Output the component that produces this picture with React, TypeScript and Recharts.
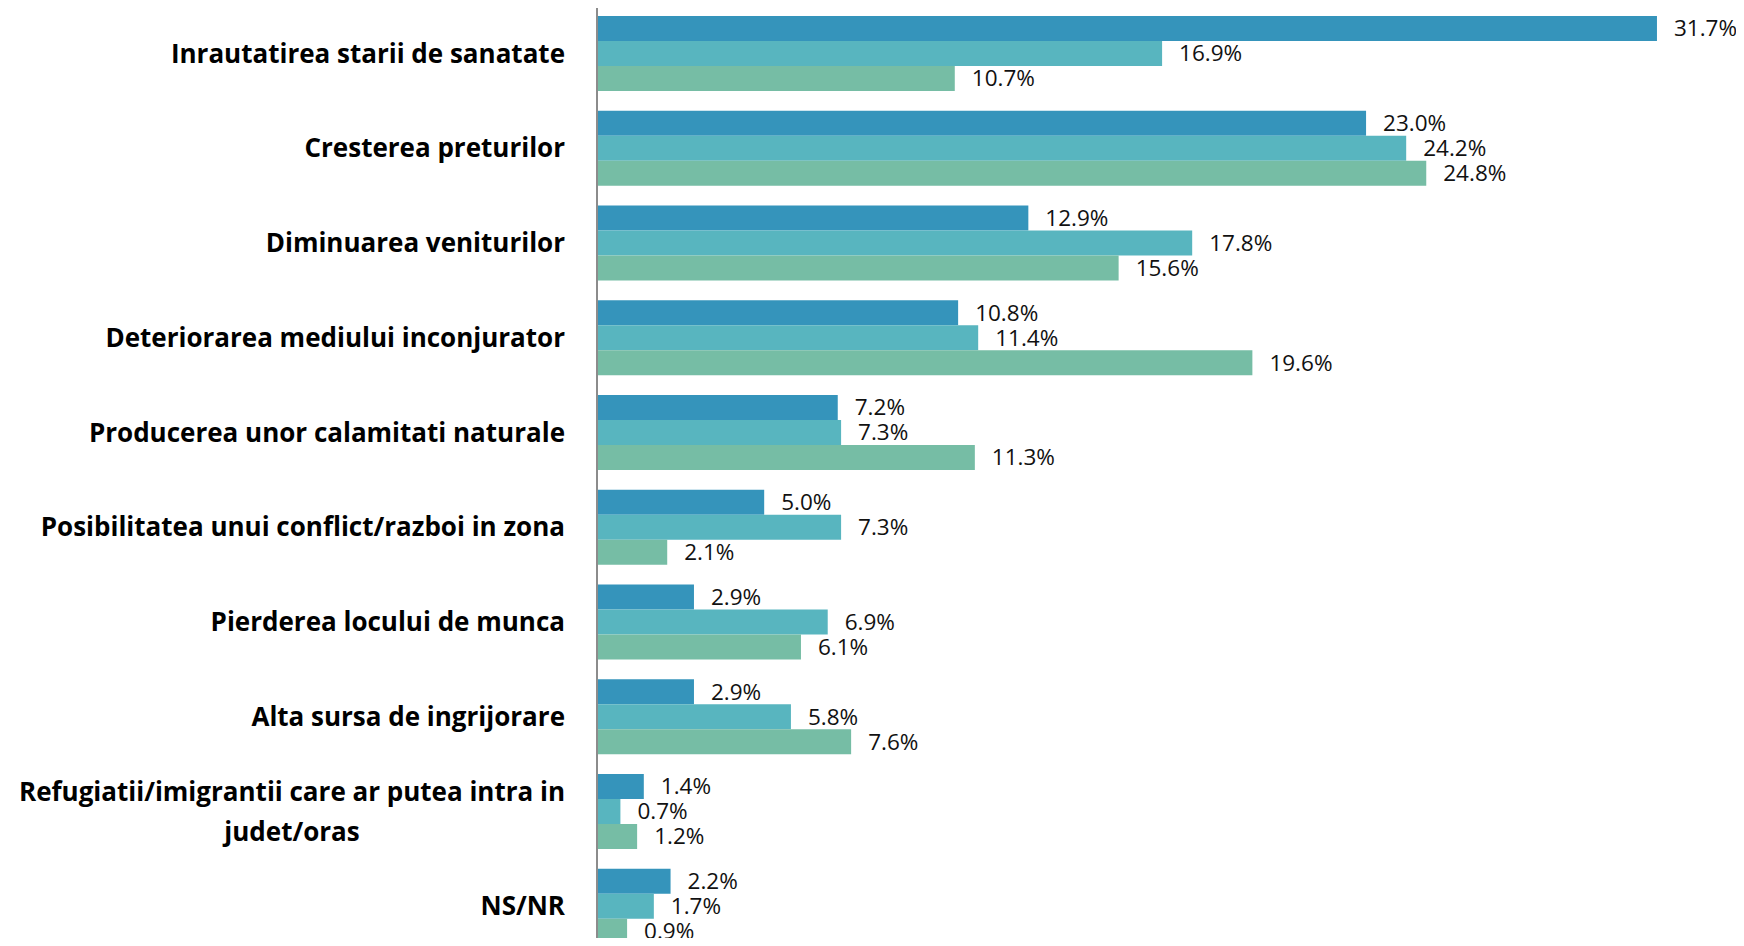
import React from "react";
import { BarChart, Bar, XAxis, YAxis, LabelList } from "recharts";

const CATEGORIES = [
  "Inrautatirea starii de sanatate",
  "Cresterea preturilor",
  "Diminuarea veniturilor",
  "Deteriorarea mediului inconjurator",
  "Producerea unor calamitati naturale",
  "Posibilitatea unui conflict/razboi in zona",
  "Pierderea locului de munca",
  "Alta sursa de ingrijorare",
  "Refugiatii/imigrantii care ar putea intra in\njudet/oras",
  "NS/NR",
];

const SERIES_A = [31.7, 23.0, 12.9, 10.8, 7.2, 5.0, 2.9, 2.9, 1.4, 2.2];
const SERIES_B = [16.9, 24.2, 17.8, 11.4, 7.3, 7.3, 6.9, 5.8, 0.7, 1.7];
const SERIES_C = [10.7, 24.8, 15.6, 19.6, 11.3, 2.1, 6.1, 7.6, 1.2, 0.9];

const DARK = "#3594bb";
const MID = "#58b5bf";
const GREEN = "#76bda5";

const LABEL_FONT = "'Open Sans', 'Liberation Sans', sans-serif";

const data = CATEGORIES.map((name, i) => ({
  name,
  a: SERIES_A[i],
  b: SERIES_B[i],
  c: SERIES_C[i],
}));

function measure(text: string, font: string) {
  const c = document.createElement("canvas").getContext("2d");
  if (!c) return text.length * 14;
  c.font = font;
  return c.measureText(text).width;
}

// right-aligned block, extra lines centred under the widest one
function CategoryTick(props: any) {
  const { x, y, payload } = props;
  const lines = String(payload.value).split("\n");
  const style = { fontFamily: LABEL_FONT, fontWeight: 700, fontSize: 26, fill: "#000" };
  if (lines.length === 1) {
    return (
      <text x={x} y={y} dy="0.36em" textAnchor="end" {...style}>
        {lines[0]}
      </text>
    );
  }
  const w = Math.max(...lines.map((l) => measure(l, `bold 26px ${LABEL_FONT}`)));
  const cx = x - w / 2;
  const lh = 40;
  const top = -((lines.length - 1) * lh) / 2;
  return (
    <text textAnchor="middle" {...style}>
      {lines.map((l, i) => (
        <tspan key={i} x={cx} y={y + top + i * lh} dy="0.36em">
          {l}
        </tspan>
      ))}
    </text>
  );
}

const fmt = (v: any) => `${Number(v).toFixed(1)}%`;

const labelStyle = { fontFamily: LABEL_FONT, fontSize: 22.5, fill: "#111" };

export default function App() {
  return (
    <div style={{ margin: -8, width: 1744, height: 946, overflow: "hidden", background: "#fff" }}>
      <BarChart
        width={1744}
        height={955}
        data={data}
        layout="vertical"
        margin={{ top: 6, right: 77, bottom: 1.5, left: 0 }}
        barSize={25}
        barGap={0}
      >
        <XAxis type="number" domain={[0, 32]} hide />
        <YAxis
          type="category"
          dataKey="name"
          width={597}
          axisLine={{ stroke: "#8c8c8c", strokeWidth: 2 }}
          tickLine={false}
          tickSize={0}
          tickMargin={32}
          interval={0}
          tick={<CategoryTick />}
        />
        <Bar dataKey="a" name="Seria 1" fill={DARK} isAnimationActive={false}>
          <LabelList dataKey="a" position="right" offset={17} formatter={fmt} style={labelStyle} />
        </Bar>
        <Bar dataKey="b" name="Seria 2" fill={MID} isAnimationActive={false}>
          <LabelList dataKey="b" position="right" offset={17} formatter={fmt} style={labelStyle} />
        </Bar>
        <Bar dataKey="c" name="Seria 3" fill={GREEN} isAnimationActive={false}>
          <LabelList dataKey="c" position="right" offset={17} formatter={fmt} style={labelStyle} />
        </Bar>
      </BarChart>
    </div>
  );
}
